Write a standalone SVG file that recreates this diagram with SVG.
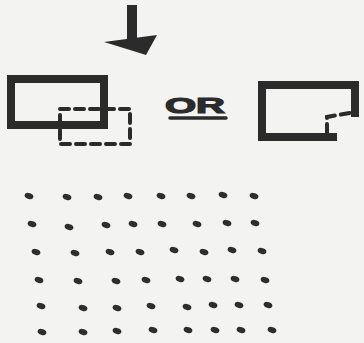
<svg xmlns="http://www.w3.org/2000/svg" width="364" height="343" viewBox="0 0 364 343">
<style>
.ink{fill:none;stroke:#2b2b2b;stroke-linecap:square;stroke-linejoin:miter}
.thick{stroke-width:8}
.dash{stroke-width:4;stroke-dasharray:9 6;stroke-linecap:round}
.dot{fill:#2e2e2e}
.lbl{font-family:"Liberation Sans",Arial,sans-serif;font-weight:bold;fill:#2b2b2b}
</style>
<defs>
<ellipse id="d" cx="0" cy="0" rx="4.5" ry="2.9" transform="rotate(20)"/>
</defs>
<rect width="364" height="343" fill="#f3f3f1"/>
<g id="connectors">
<line x1="132" y1="5" x2="132" y2="40" stroke="#2b2b2b" stroke-width="10"/>
<polygon points="104,42 157,35 146,55 130,50" fill="#2b2b2b"/>
</g>
<g id="left-box">
<rect class="ink thick" x="11" y="79" width="93" height="46"/>
<rect class="ink dash" x="60" y="109" width="70" height="35"/>
</g>
<g id="or-label">
<text class="lbl" x="165" y="113" font-size="22" textLength="60" lengthAdjust="spacingAndGlyphs" stroke="#2b2b2b" stroke-width="1.2">OR</text>
<line x1="170" y1="118" x2="226" y2="118" stroke="#2b2b2b" stroke-width="3.5" stroke-linecap="round"/>
</g>
<g id="right-shape">
<polyline class="ink thick" points="355,113 355,85 262,85 262,137 333,137"/>
<polyline class="ink dash" points="327,133 327,117 355,112"/>
</g>
<g id="dot-grid" class="dot">
<use href="#d" x="29" y="196"/><use href="#d" x="67" y="197"/><use href="#d" x="98" y="197"/><use href="#d" x="128" y="196"/><use href="#d" x="161" y="196"/><use href="#d" x="191" y="196"/><use href="#d" x="223" y="195"/><use href="#d" x="254" y="196"/>
<use href="#d" x="32" y="224"/><use href="#d" x="69" y="227"/><use href="#d" x="106" y="225"/><use href="#d" x="133" y="224"/><use href="#d" x="162" y="224"/><use href="#d" x="197" y="224"/><use href="#d" x="227" y="223"/><use href="#d" x="255" y="223"/>
<use href="#d" x="36" y="252"/><use href="#d" x="75" y="253"/><use href="#d" x="110" y="252"/><use href="#d" x="140" y="252"/><use href="#d" x="174" y="250"/><use href="#d" x="204" y="252"/><use href="#d" x="232" y="250"/><use href="#d" x="262" y="251"/>
<use href="#d" x="39" y="280"/><use href="#d" x="78" y="281"/><use href="#d" x="116" y="281"/><use href="#d" x="146" y="280"/><use href="#d" x="180" y="279"/><use href="#d" x="207" y="279"/><use href="#d" x="235" y="279"/><use href="#d" x="265" y="280"/>
<use href="#d" x="41" y="306"/><use href="#d" x="83" y="308"/><use href="#d" x="117" y="308"/><use href="#d" x="151" y="306"/><use href="#d" x="187" y="307"/><use href="#d" x="213" y="305"/><use href="#d" x="239" y="305"/><use href="#d" x="268" y="305"/>
<use href="#d" x="42" y="332"/><use href="#d" x="83" y="332"/><use href="#d" x="117" y="331"/><use href="#d" x="153" y="330"/><use href="#d" x="188" y="330"/><use href="#d" x="215" y="330"/><use href="#d" x="241" y="330"/><use href="#d" x="272" y="330"/>
</g>
</svg>
